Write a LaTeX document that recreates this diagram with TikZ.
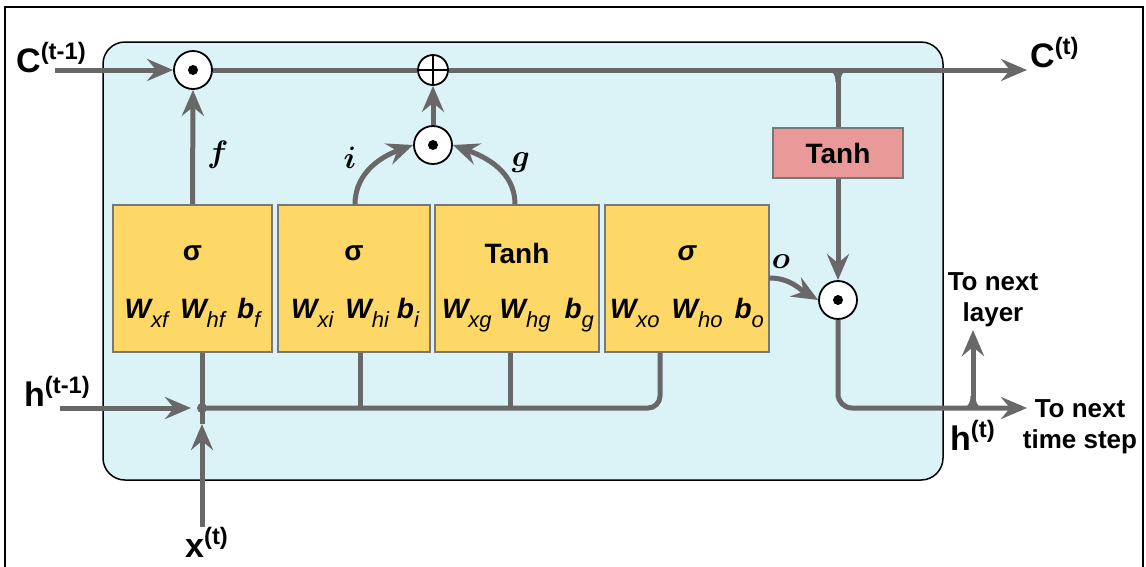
\RequirePackage{fix-cm}
\documentclass[tikz,border=0pt]{standalone}
\usepackage{fontspec}
\setmainfont{Liberation Sans}
\usepackage{bm}
\usetikzlibrary{arrows.meta}
\definecolor{lineg}{RGB}{104,104,104}
\definecolor{cellblue}{RGB}{219,242,247}
\definecolor{gateyel}{RGB}{254,216,102}
\definecolor{tanhpink}{RGB}{234,153,153}
\definecolor{boxb}{RGB}{120,120,120}
\newcommand\Wsub[2]{{\bfseries\itshape #1}\raisebox{-9pt}{\fontsize{22}{22}\selectfont\itshape #2}}
\tikzset{
  conn/.style={draw=lineg, line width=5pt},
  arr/.style={conn, -{Stealth[length=26pt,width=22pt,inset=9pt]}},
  gatebox/.style={draw=boxb, line width=1.2pt, fill=gateyel, inner sep=0pt},
  tanhbox/.style={draw=boxb, line width=1.2pt, fill=tanhpink, inner sep=0pt, minimum width=130pt, minimum height=50pt, font=\fontsize{28}{28}\selectfont\bfseries},
  odot/.style={circle, draw=black, line width=1.8pt, fill=white, minimum size=38pt, inner sep=0pt,
    path picture={\fill[black] (path picture bounding box.center) circle (5pt);}},
  oplus/.style={circle, draw=black, line width=1.8pt, fill=white, minimum size=30pt, inner sep=0pt,
    path picture={\draw[line width=1.6pt] (path picture bounding box.north) -- (path picture bounding box.south)
      (path picture bounding box.west) -- (path picture bounding box.east);}},
  lbl/.style={font=\fontsize{34}{34}\selectfont\bfseries, inner sep=0pt},
  gtitle/.style={font=\fontsize{28}{28}\selectfont\bfseries, inner sep=0pt},
  wrow/.style={font=\fontsize{28}{28}\selectfont, inner sep=0pt},
  mlbl/.style={font=\fontsize{31}{31}\selectfont, inner sep=0pt},
  side/.style={font=\fontsize{26}{31}\selectfont\bfseries, align=center, inner sep=0pt},
}
\begin{document}
\begin{tikzpicture}[x=1pt,y=-1pt]
\useasboundingbox (0,0) rectangle (1146,566);
\fill[white] (0,0) rectangle (1146,566);
% outer frame
\draw[black, line width=2.5pt] (5,575) -- (5,7) -- (1143,7) -- (1143,575);
% cell
\draw[black, line width=1.5pt, fill=cellblue, rounded corners=22pt] (103,42) rectangle (943,480);

% gates
\node[gatebox, minimum width=159pt, minimum height=147pt] (gf) at (192.5,278.5) {};
\node[gatebox, minimum width=152pt, minimum height=147pt] (gi) at (354,278.5) {};
\node[gatebox, minimum width=164pt, minimum height=147pt] (gg) at (517,278.5) {};
\node[gatebox, minimum width=164pt, minimum height=147pt] (go) at (687,278.5) {};
\node[gtitle] (tf) at (192.5,253) {σ};
\node[gtitle] (ti) at (354,253) {σ};
\node[gtitle] (tg) at (517,253) {Tanh};
\node[gtitle] (to) at (687,253) {\itshape σ};
\node[wrow, anchor=base] (wf) at (192.5,318) {\Wsub{W}{xf}\hspace{12pt}\Wsub{W}{hf}\hspace{12pt}\Wsub{b}{f}};
\node[wrow, anchor=base] (wi) at (355,318) {\Wsub{W}{xi}\hspace{12pt}\Wsub{W}{hi}\hspace{8pt}\Wsub{b}{i}};
\node[wrow, anchor=base] (wg) at (518,318) {\Wsub{W}{xg}\hspace{8pt}\Wsub{W}{hg}\hspace{14pt}\Wsub{b}{g}};
\node[wrow, anchor=base] (wo) at (687,318) {\Wsub{W}{xo}\hspace{12pt}\Wsub{W}{ho}\hspace{12pt}\Wsub{b}{o}};

% tanh box
\node[tanhbox] (th) at (838,153) {Tanh};

% operators
\node[odot] (cf) at (193,70) {};
\node[oplus] (pl) at (433,70) {};
\node[odot] (ig) at (433,145) {};
\node[odot] (oc) at (838,300) {};

% coordinates
\coordinate (cin) at (55,70);
\coordinate (cout) at (1027,70);
\coordinate (cj) at (838,70);
\coordinate (hin) at (60,408);
\coordinate (hj) at (202,408);
\coordinate (hend) at (191,408);
\coordinate (xin) at (202,527);
\coordinate (xend) at (202,424);
\coordinate (hout) at (1027,408);
\coordinate (lj) at (973,408);
\coordinate (lup) at (973,330);

% connectors
\draw[arr] (cin) -- (cf.west);
\draw[conn] (cf.east) -- (pl.west);
\draw[arr] (pl.east) -- (cout);
\draw[arr] (gf.north) -- (cf.south);
\draw[arr] (ig.north) -- (pl.south);
\draw[arr] (gi.north -| 355,0) to[out=90,in=200] (ig.west);
\draw[arr] (gg.north -| 515,0) to[out=90,in=-20] (ig.east);
\draw[arr] (go.east |- 0,278) to[out=0,in=150] (oc.west);
\draw[conn] (cj) -- (th.north);
\draw[arr] (th.south) -- (oc.north);
\draw[arr, rounded corners=14pt] (oc.south) |- (hout);
\draw[arr] (lj) -- (lup);
\draw[arr] (hin) -- (hend);
\draw[arr] (xin) -- (xend);
\draw[conn] (hj) -- (xend);
\draw[conn] (hj) -- (gf.south -| hj);
\draw[conn, rounded corners=12pt] (hj) -| (go.south -| 660,0);
\draw[conn] (360,408) -- (gi.south -| 360,0);
\draw[conn] (510,408) -- (gg.south -| 510,0);
\fill[lineg] (hj) circle (5pt);
% small fillets at tee junctions
\fill[lineg] (829,70) -- (847,70) to[out=-160,in=90] (840.5,82) -- (835.5,82) to[out=90,in=-20] (829,70) -- cycle;
\fill[lineg] (964,408) -- (982,408) to[out=160,in=-90] (975.5,396) -- (970.5,396) to[out=-90,in=20] (964,408) -- cycle;

% labels
\node[lbl, anchor=base west] (lc0) at (16,72) {C\textsuperscript{(t-1)}};
\node[lbl, anchor=base west] (lc1) at (1030,67) {C\textsuperscript{(t)}};
\node[lbl, anchor=base west] (lh0) at (24,406) {h\textsuperscript{(t-1)}};
\node[lbl, anchor=base west] (lx) at (185,557) {x\textsuperscript{(t)}};
\node[lbl, anchor=base west] (lh1) at (950,450) {h\textsuperscript{(t)}};
\node[mlbl] (lf) at (218,155) {$\bm{f}$};
\node[mlbl] (li) at (350,158) {$\bm{i}$};
\node[mlbl] (lg) at (521,163) {$\bm{g}$};
\node[mlbl] (lo) at (781,262) {$\bm{o}$};
\node[side] (nl) at (993,300) {To next\\layer};
\node[side] (nt) at (1080,427) {To next\\time step};
\end{tikzpicture}
\end{document}
